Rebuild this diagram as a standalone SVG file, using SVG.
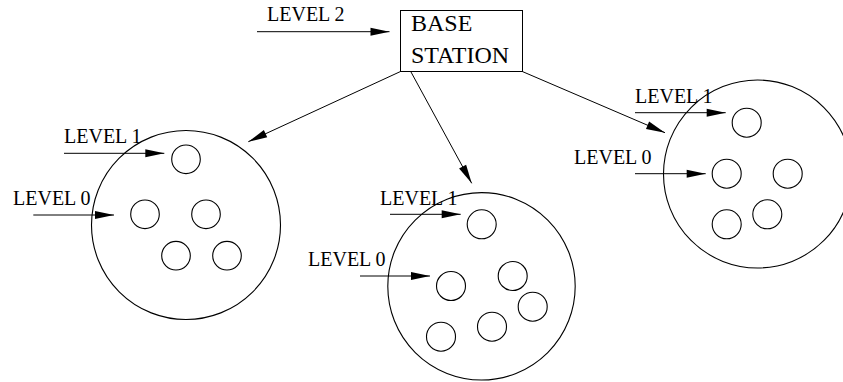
<svg xmlns="http://www.w3.org/2000/svg" width="843" height="382" viewBox="0 0 843 382">
  <style>
    .ln { stroke: #000; stroke-width: 1; fill: none; }
    .cl { stroke: #000; stroke-width: 1.1; fill: none; }
    .nd { stroke: #000; stroke-width: 1.1; fill: none; }
    .lbl { font-family: "Liberation Serif", "Times New Roman", serif; font-size: 20px; fill: #000; }
    .bs { font-family: "Liberation Serif", "Times New Roman", serif; font-size: 24px; fill: #000; }
  </style>
  <defs>
    <marker id="arrow" markerUnits="userSpaceOnUse" markerWidth="19" markerHeight="8" refX="19" refY="4" orient="auto" overflow="visible">
      <path d="M0,0 L19,4 L0,8 Z" fill="#000"/>
    </marker>
  </defs>
  <rect width="843" height="382" fill="#fff"/>

  <!-- base station -->
  <g id="base-station">
    <rect x="400.5" y="10.5" width="122" height="61" class="ln"/>
    <text x="411" y="31" class="bs">BASE</text>
    <text x="411" y="63" class="bs">STATION</text>
  </g>

  <!-- left cluster -->
  <g id="cluster-left">
    <circle cx="186" cy="225" r="94.5" class="cl"/>
    <circle cx="186" cy="159.3" r="14.3" class="nd"/>
    <circle cx="145" cy="214.3" r="14.3" class="nd"/>
    <circle cx="206" cy="214.3" r="14.3" class="nd"/>
    <circle cx="176" cy="255.7" r="14.3" class="nd"/>
    <circle cx="227" cy="255.7" r="14.3" class="nd"/>
    <text x="64" y="143" class="lbl">LEVEL 1</text>
    <text x="13" y="205" class="lbl">LEVEL 0</text>
  </g>

  <!-- middle cluster -->
  <g id="cluster-middle">
    <circle cx="481.5" cy="286.3" r="93.7" class="cl"/>
    <circle cx="481.7" cy="224.3" r="14.5" class="nd"/>
    <circle cx="451" cy="286" r="14.5" class="nd"/>
    <circle cx="512.7" cy="276" r="14.5" class="nd"/>
    <circle cx="532.7" cy="306.7" r="14.5" class="nd"/>
    <circle cx="492" cy="326.7" r="14.5" class="nd"/>
    <circle cx="441" cy="336.7" r="14.5" class="nd"/>
    <text x="380" y="205" class="lbl">LEVEL 1</text>
    <text x="308" y="266" class="lbl">LEVEL 0</text>
  </g>

  <!-- right cluster -->
  <g id="cluster-right">
    <circle cx="757.5" cy="174" r="94" class="cl"/>
    <circle cx="746.7" cy="122.7" r="14.5" class="nd"/>
    <circle cx="726.7" cy="173.7" r="14.5" class="nd"/>
    <circle cx="787.7" cy="173.7" r="14.5" class="nd"/>
    <circle cx="726.7" cy="224.3" r="14.5" class="nd"/>
    <circle cx="767.3" cy="214.3" r="14.5" class="nd"/>
    <text x="635" y="103" class="lbl">LEVEL 1</text>
    <text x="574" y="164" class="lbl">LEVEL 0</text>
  </g>

  <!-- level 2 label -->
  <g id="level2">
    <text x="267" y="21" class="lbl">LEVEL 2</text>
  </g>

  <!-- connectors -->
  <g id="connectors">
    <line x1="257" y1="31.7" x2="389.5" y2="31.7" class="ln" marker-end="url(#arrow)"/>
    <line x1="400.5" y1="71.5" x2="248.3" y2="141.7" class="ln" marker-end="url(#arrow)"/>
    <line x1="411" y1="72" x2="471.7" y2="183.3" class="ln" marker-end="url(#arrow)"/>
    <line x1="522.3" y1="71.5" x2="665" y2="132.7" class="ln" marker-end="url(#arrow)"/>
    <line x1="64" y1="153.3" x2="164.3" y2="153.3" class="ln" marker-end="url(#arrow)"/>
    <line x1="33.3" y1="215" x2="114" y2="215" class="ln" marker-end="url(#arrow)"/>
    <line x1="390" y1="214.3" x2="460.7" y2="214.3" class="ln" marker-end="url(#arrow)"/>
    <line x1="360" y1="276" x2="430" y2="276" class="ln" marker-end="url(#arrow)"/>
    <line x1="635" y1="112.7" x2="725.7" y2="112.7" class="ln" marker-end="url(#arrow)"/>
    <line x1="635" y1="173.7" x2="705.7" y2="173.7" class="ln" marker-end="url(#arrow)"/>
  </g>
</svg>
